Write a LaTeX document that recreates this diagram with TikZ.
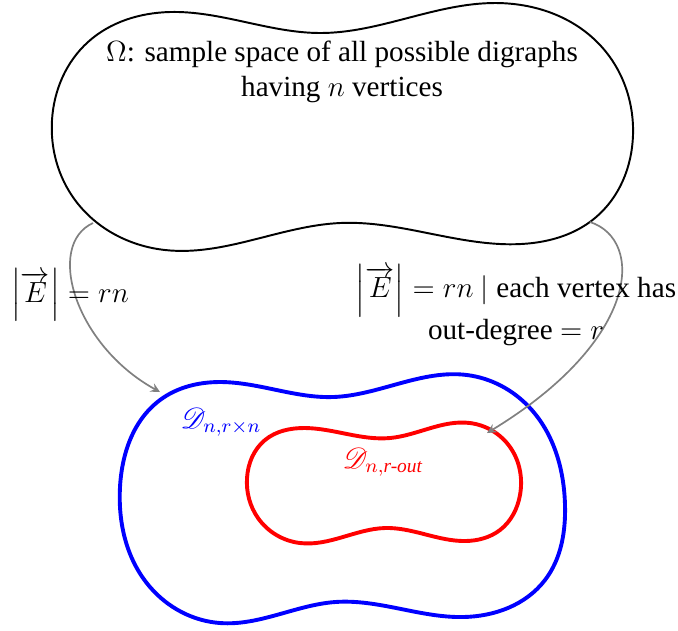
\documentclass[tikz,border=0pt,12pt]{standalone}
\usepackage{amsmath, amssymb}
\usepackage{mathrsfs}
\usepackage[no-math]{fontspec}
\setmainfont{Liberation Serif}
\usepackage{tikz}
\usetikzlibrary{hobby}

\tikzset{
  space/.style={line width=0.8pt, use Hobby shortcut, closed=true},
  subspace/.style={line width=1.6pt, use Hobby shortcut, closed=true},
  cond/.style={gray, line width=0.7pt, -stealth},
}

\begin{document}
\begin{tikzpicture}[x=0.4115pt,y=-0.4115pt]
  \useasboundingbox (0,0) rectangle (678,630);
  % sample space and its subsets
  \draw[space] (52,120) .. (88,42) .. (170,12) .. (320,33) .. (495,3) .. (600,45) .. (633,135) .. (595,218) .. (500,244) .. (340,223) .. (165,250) .. (75,200);
  \draw[subspace, blue] (120,487) .. (160,400) .. (220,382) .. (333,397) .. (467,375) .. (530,408) .. (565,505) .. (545,580) .. (463,617) .. (335,602) .. (220,623) .. (150,587);
  \draw[subspace, red] (247,478) .. (265,440) .. (305,428) .. (390,438) .. (470,423) .. (510,447) .. (520,495) .. (500,530) .. (465,541) .. (385,528) .. (300,543) .. (258,518);
  \node[align=center] (omega) at (342,72) {$\Omega$: sample space of all possible digraphs\\ having $n$ vertices};
  \node[blue] (dfull) at (221,422) {$\mathscr{D}_{n,r\times n}$};
  \node[red] (dout) at (383,462) {$\mathscr{D}_{n,\text{\itshape r-out}}$};
  % conditioning arrows
  \coordinate (omL) at (93,223);
  \coordinate (omR) at (590,222);
  \coordinate (fullL) at (160,392);
  \coordinate (outR) at (487,433);
  \draw[cond] (omL) .. controls (45,245) and (75,345) .. (fullL);
  \draw[cond] (omR) .. controls (645,240) and (640,340) .. (outR);
  \node (edgesL) at (70,295) {$\left|\overrightarrow{E}\right| = rn$};
  \node[align=center] (edgesR) at (516,305) {$\left|\overrightarrow{E}\right| = rn$ $|$ each vertex has\\ out-degree $= r$};
\end{tikzpicture}
\end{document}
